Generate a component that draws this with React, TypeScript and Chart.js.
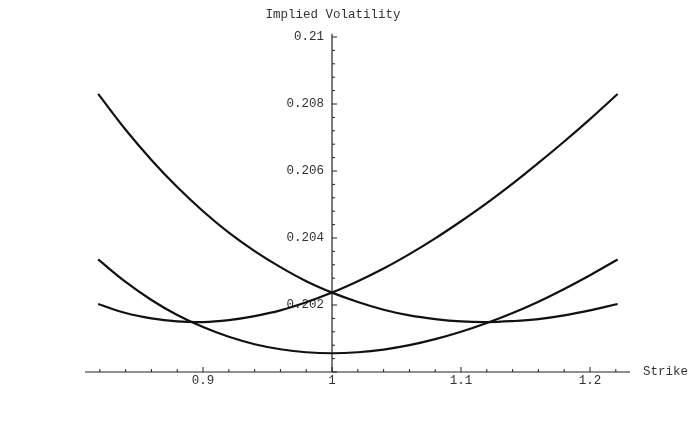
import React, { useEffect, useRef } from "react";
import { Chart, registerables } from "chart.js";

Chart.register(...registerables);

// Strike grid
const strikes = [0.8187, 0.84, 0.86, 0.88, 0.9, 0.92, 0.94, 0.96, 0.98, 1.0, 1.02, 1.04, 1.06, 1.08, 1.1, 1.12, 1.14, 1.16, 1.18, 1.2, 1.2214];

// Curve falling from upper-left, minimum near 1.12
const seriesA = [0.2083, 0.20723, 0.20633, 0.20552, 0.2048, 0.20416, 0.20361, 0.20313, 0.20271, 0.20237, 0.20209, 0.20186, 0.20169, 0.20158, 0.20151, 0.20149, 0.20152, 0.20158, 0.20169, 0.20184, 0.20203];
// Curve rising to upper-right, minimum near 0.9
const seriesB = [0.20203, 0.20176, 0.2016, 0.20151, 0.20149, 0.20155, 0.20167, 0.20184, 0.20208, 0.20237, 0.20271, 0.20309, 0.20352, 0.20399, 0.2045, 0.20504, 0.20562, 0.20624, 0.20688, 0.20755, 0.2083];
// Symmetric smile, minimum at 1
const seriesC = [0.20336, 0.20269, 0.20215, 0.2017, 0.20134, 0.20105, 0.20083, 0.20068, 0.20059, 0.20056, 0.20059, 0.20067, 0.2008, 0.20098, 0.2012, 0.20146, 0.20176, 0.2021, 0.20248, 0.20289, 0.20336];

const xTickValues = [0.9, 1.0, 1.1, 1.2];
const xTickLabels = ["0.9", "1", "1.1", "1.2"];
const yTickValues = [0.202, 0.204, 0.206, 0.208, 0.21];
const yTickLabels = ["0.202", "0.204", "0.206", "0.208", "0.21"];

const xAxisTitle = "Strike";
const yAxisTitle = "Implied Volatility";

const FONT = "12.5px 'Liberation Mono', 'DejaVu Sans Mono', monospace";

const axesPlugin = {
  id: "mmaAxes",
  beforeDatasetsDraw(chart: any) {
    const { ctx, chartArea, scales } = chart;
    const xs = scales.x;
    const ys = scales.y;
    const ax = xs.getPixelForValue(1);
    const ay = ys.getPixelForValue(0.2);
    const yTop = ys.getPixelForValue(0.2101);
    ctx.save();
    ctx.strokeStyle = "#222";
    ctx.lineWidth = 1.2;
    // x axis
    ctx.beginPath();
    ctx.moveTo(chartArea.left, ay);
    ctx.lineTo(chartArea.right, ay);
    ctx.stroke();
    // y axis
    ctx.beginPath();
    ctx.moveTo(ax, ay);
    ctx.lineTo(ax, yTop);
    ctx.stroke();

    // major and minor ticks
    ctx.lineWidth = 1;
    for (let i = 0; i <= 25; i++) {
      const v = 0.2 + i * 0.0004;
      const p = ys.getPixelForValue(v);
      const major = i % 5 === 0;
      ctx.beginPath();
      ctx.moveTo(ax, p);
      ctx.lineTo(ax + (major ? 5 : 3), p);
      ctx.stroke();
    }
    for (let i = 0; i <= 20; i++) {
      const v = 0.82 + i * 0.02;
      const p = xs.getPixelForValue(v);
      const major = (i + 1) % 5 === 0;
      ctx.beginPath();
      ctx.moveTo(p, ay);
      ctx.lineTo(p, ay - (major ? 5 : 3));
      ctx.stroke();
    }

    // labels
    ctx.fillStyle = "#333";
    ctx.font = FONT;
    ctx.textBaseline = "middle";
    ctx.textAlign = "right";
    yTickValues.forEach((v, i) => {
      ctx.fillText(yTickLabels[i], ax - 8, ys.getPixelForValue(v));
    });
    ctx.textAlign = "center";
    xTickValues.forEach((v, i) => {
      ctx.fillText(xTickLabels[i], xs.getPixelForValue(v), ay + 9);
    });
    ctx.fillText(yAxisTitle, ax + 1, 15);
    ctx.textAlign = "left";
    ctx.fillText(xAxisTitle, chartArea.right + 13, ay);
    ctx.restore();
  },
};

export default function App() {
  const ref = useRef<HTMLCanvasElement>(null);
  useEffect(() => {
    if (!ref.current) return;
    const mk = (data: number[]) => ({
      data: strikes.map((s, i) => ({ x: s, y: data[i] })),
      borderColor: "#111",
      borderWidth: 2.2,
      pointRadius: 0,
      tension: 0.4,
      fill: false,
    });
    const chart = new Chart(ref.current, {
      type: "line",
      data: { datasets: [mk(seriesA), mk(seriesB), mk(seriesC)] },
      options: {
        responsive: false,
        animation: false,
        devicePixelRatio: 1,
        layout: { padding: { left: 85, right: 58, top: 33.65, bottom: 55 } },
        plugins: { legend: { display: false }, tooltip: { enabled: false }, title: { display: false } },
        scales: {
          x: { type: "linear", min: 0.8085, max: 1.231, display: false },
          y: { type: "linear", min: 0.2, max: 0.2101, display: false },
        },
      },
      plugins: [axesPlugin],
    });
    return () => chart.destroy();
  }, []);
  return (
    <div style={{ position: "fixed", left: 0, top: 0, width: 688, height: 427, background: "#fff" }}>
      <canvas ref={ref} width={688} height={427} style={{ width: 688, height: 427 }} />
    </div>
  );
}
